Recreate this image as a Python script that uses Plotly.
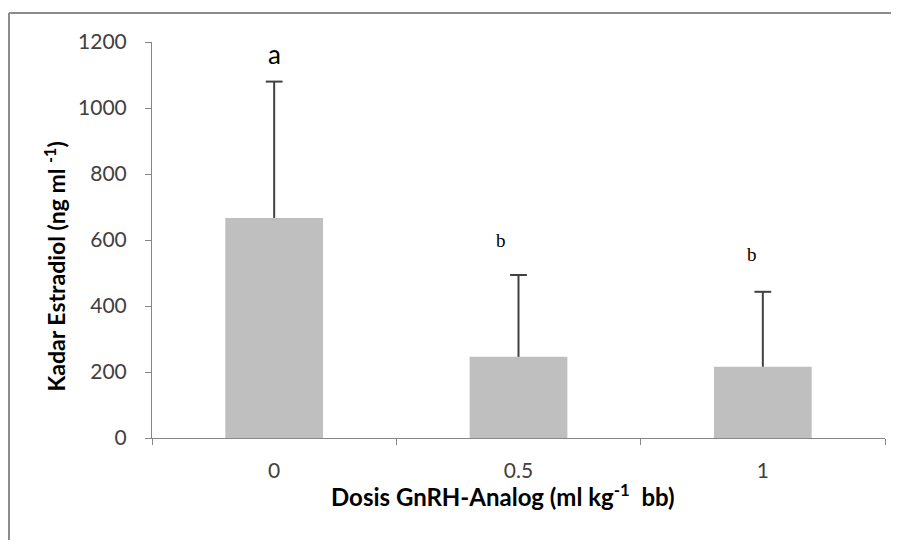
import plotly.graph_objects as go

doses = ["0", "0.5", "1"]
means = [667, 246, 216]
sd_plus = [413, 248, 227]
letters = ["a", "b", "b"]
letter_y = [1165, 600, 555]
y_ticks = [0, 200, 400, 600, 800, 1000, 1200]

W, H = 883, 532
L, R, T, B = 144, 6, 34, 102
PW, PH = W - L - R, H - T - B

fig = go.Figure()
fig.add_trace(go.Bar(
    x=doses, y=means, width=0.4,
    marker=dict(color="#bfbfbf", line=dict(width=0)),
    error_y=dict(type="data", symmetric=False, array=sd_plus,
                 arrayminus=[0, 0, 0], color="#404040", thickness=2, width=0),
    showlegend=False, hoverinfo="skip",
))
# error-bar caps
fig.add_trace(go.Scatter(
    x=doses, y=[m + s for m, s in zip(means, sd_plus)], mode="markers",
    marker=dict(symbol="line-ew", size=12, line=dict(color="#404040", width=2)),
    showlegend=False, hoverinfo="skip",
))

# significance letters
fig.add_annotation(x=0, y=letter_y[0], text=letters[0], showarrow=False,
                   font=dict(family="Lato, Open Sans, sans-serif", size=26, color="#000000"))
fig.add_annotation(x=1, y=letter_y[1], text=letters[1], showarrow=False, xshift=-18,
                   font=dict(family="Liberation Serif, serif", size=19, color="#000000"))
fig.add_annotation(x=2, y=letter_y[2], text=letters[2], showarrow=False, xshift=-11,
                   font=dict(family="Liberation Serif, serif", size=19, color="#000000"))

# axis titles
fig.add_annotation(xref="paper", yref="paper", x=(495 - L) / PW, y=(PH + T - 505) / PH,
                   text="<b>Dosis GnRH-Analog (ml kg<sup>-1</sup>  bb)</b>", showarrow=False,
                   font=dict(size=24, color="#000000"))
fig.add_annotation(xref="paper", yref="paper", x=(29 - L) / PW, y=(PH + T - 259) / PH,
                   text="<b>Kadar Estradiol (ng ml <sup>-1</sup>)</b>", showarrow=False,
                   textangle=-90, font=dict(size=23, color="#000000"))

# outer chart-area frame (top and left edges; cropped at right/bottom)
fx0 = (1 - L) / PW
fy1 = (PH + T - 5) / PH
fig.add_shape(type="line", xref="paper", yref="paper",
              x0=fx0, x1=(W - L) / PW, y0=fy1, y1=fy1,
              line=dict(color="#8c8c8c", width=2), layer="below")
fig.add_shape(type="line", xref="paper", yref="paper",
              x0=fx0, x1=fx0, y0=(PH + T - H) / PH, y1=fy1,
              line=dict(color="#8c8c8c", width=2), layer="below")

fig.update_layout(
    width=W, height=H,
    margin=dict(l=L, r=R, t=T, b=B, autoexpand=False),
    paper_bgcolor="white", plot_bgcolor="white",
    font=dict(family="Lato, Open Sans, sans-serif", color="#404040"),
    xaxis=dict(
        type="category", range=[-0.5, 2.5], tickson="boundaries",
        showline=True, linecolor="#868686", linewidth=1,
        ticks="outside", ticklen=6, tickcolor="#868686",
        showgrid=False, zeroline=False,
        tickfont=dict(size=21, color="#404040"), ticklabelstandoff=14,
    ),
    yaxis=dict(
        range=[0, 1200], tickvals=y_ticks, ticktext=[str(v) for v in y_ticks],
        showline=True, linecolor="#868686", linewidth=1,
        ticks="outside", ticklen=6, tickcolor="#868686",
        showgrid=False, zeroline=False,
        tickfont=dict(size=21, color="#404040"), ticklabelstandoff=14,
    ),
)

fig.write_html("out.html")
